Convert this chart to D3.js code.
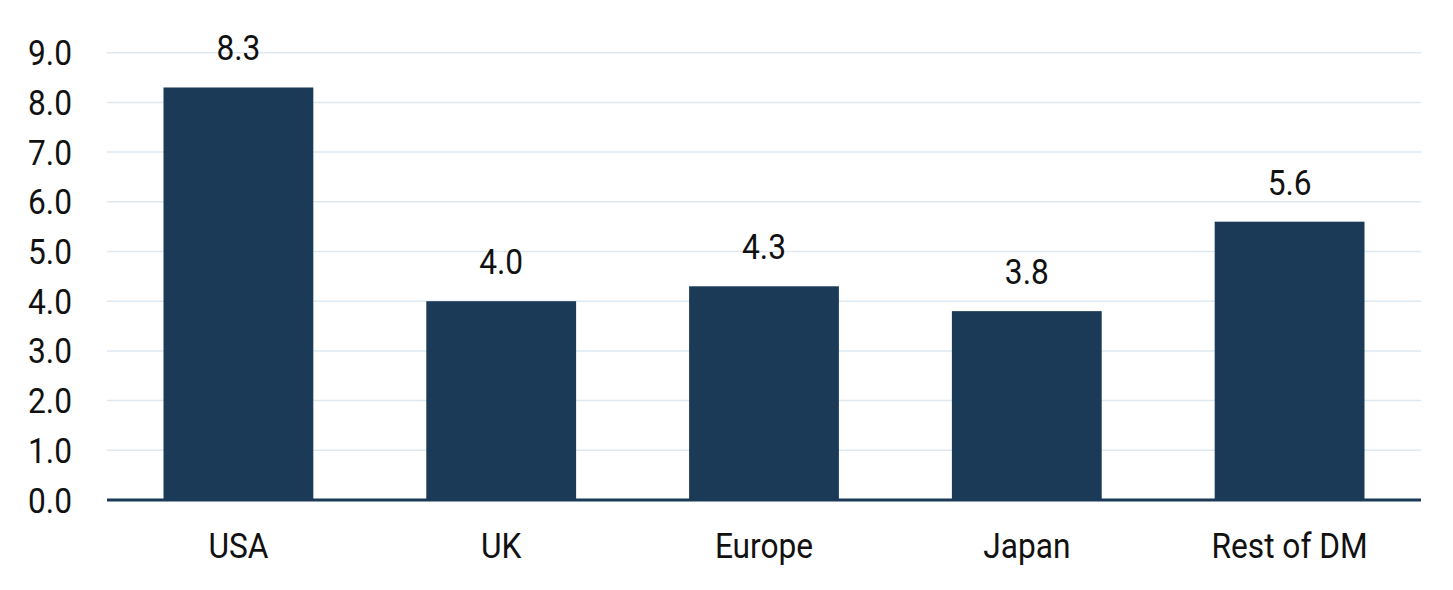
<!DOCTYPE html>
<html>
<head>
<meta charset="utf-8">
<script src="https://cdn.jsdelivr.net/npm/d3@7"></script>
<style>
  html, body { margin: 0; padding: 0; background: #fff; }
  text { font-family: Roboto, sans-serif; fill: #111; }
</style>
</head>
<body>
<svg id="chart" width="1453" height="590"></svg>
<script>
const categories = ["USA", "UK", "Europe", "Japan", "Rest of DM"];
const values = [8.3, 4.0, 4.3, 3.8, 5.6];
const yTicks = [0, 1, 2, 3, 4, 5, 6, 7, 8, 9];

const W = 1453, H = 590;
const margin = { left: 107, right: 32, top: 52.7, bottom: 90 };
const svg = d3.select("#chart");
const sx = 0.88;
const fs = 36;

const x = d3.scaleBand().domain(categories).range([margin.left, W - margin.right]).paddingInner(0.43).paddingOuter(0.215);
const y = d3.scaleLinear().domain([0, 9]).range([500, margin.top]);

// gridlines
svg.append("g").selectAll("line").data(yTicks.filter(d => d > 0)).join("line")
  .attr("x1", margin.left).attr("x2", W - margin.right)
  .attr("y1", d => y(d)).attr("y2", d => y(d))
  .attr("stroke", "#dde8f0").attr("stroke-width", 1.5);

// bars
svg.append("g").selectAll("rect").data(values).join("rect")
  .attr("x", (d, i) => x(categories[i]))
  .attr("width", x.bandwidth())
  .attr("y", d => y(d))
  .attr("height", d => y(0) - y(d))
  .attr("fill", "#1a3a57");

// baseline
svg.append("line").attr("x1", margin.left).attr("x2", W - margin.right)
  .attr("y1", y(0)).attr("y2", y(0)).attr("stroke", "#1a3a57").attr("stroke-width", 3);

function condText(g, tx, ty, str, anchor) {
  g.append("text").attr("transform", `translate(${tx},${ty}) scale(${sx},1)`)
    .attr("text-anchor", anchor).attr("font-size", fs).text(str);
}

// y tick labels
const gy = svg.append("g");
yTicks.forEach(t => condText(gy, 72, y(t) + 12.5, d3.format(".1f")(t), "end"));

// value labels
const gv = svg.append("g");
values.forEach((v, i) => condText(gv, x(categories[i]) + x.bandwidth() / 2, y(v) - 27, d3.format(".1f")(v), "middle"));

// category labels
const gc = svg.append("g");
categories.forEach(c => condText(gc, x(c) + x.bandwidth() / 2, 557.5, c, "middle"));
</script>
</body>
</html>
